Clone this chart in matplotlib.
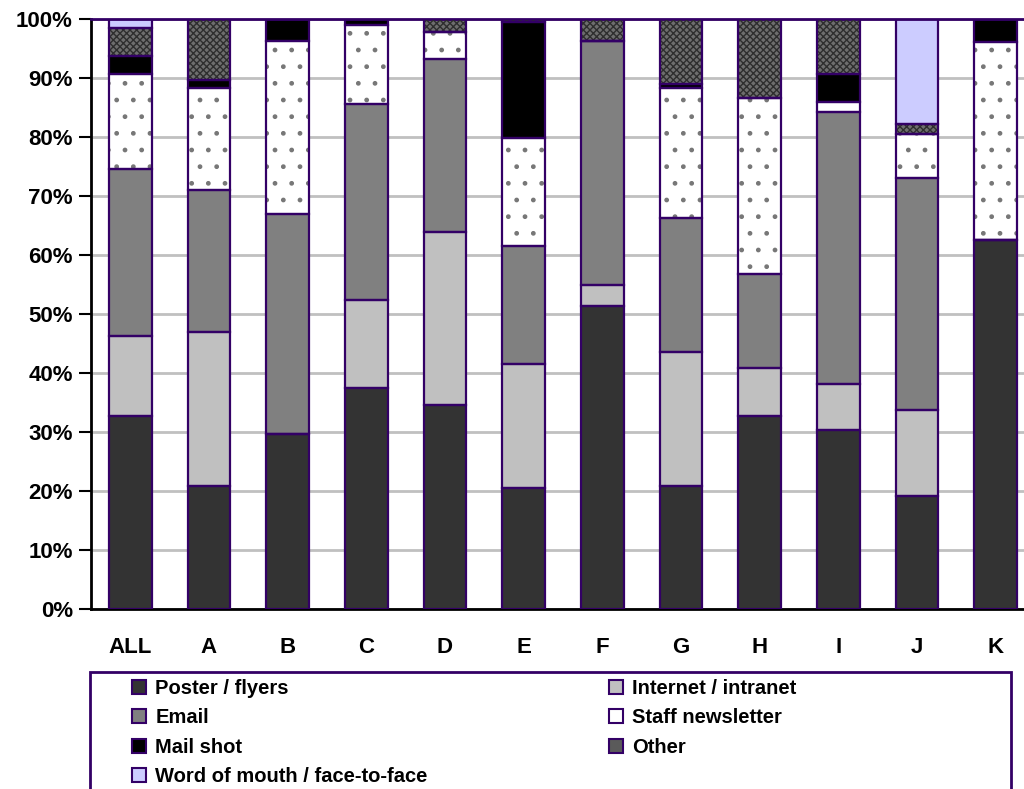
import numpy as np
import matplotlib.pyplot as plt
from matplotlib.patches import Patch, Rectangle

plt.rcParams['font.family'] = ['Liberation Sans', 'DejaVu Sans']
plt.rcParams['font.weight'] = 'bold'
plt.rcParams['hatch.linewidth'] = 1.0

groups = ['ALL', 'A', 'B', 'C', 'D', 'E', 'F', 'G', 'H', 'I', 'J', 'K']

# share of each channel (%) per group, bottom to top
poster = [32.7, 20.8, 29.7, 37.4, 34.5, 20.5, 51.3, 20.9, 32.7, 30.3, 19.1, 62.6]
internet = [13.5, 26.1, 0.0, 15.0, 29.4, 21.0, 3.7, 22.6, 8.1, 7.8, 14.6, 0.0]
email = [28.3, 24.2, 37.2, 33.2, 29.4, 20.0, 41.3, 22.8, 15.9, 46.1, 39.3, 0.0]
newsletter = [16.2, 17.2, 29.4, 13.3, 4.5, 18.3, 0.0, 22.0, 29.9, 1.7, 7.5, 33.5]
mailshot = [3.1, 1.4, 3.7, 1.1, 0.0, 19.7, 0.0, 0.6, 0.0, 4.8, 0.0, 3.9]
other = [4.7, 10.3, 0.0, 0.0, 2.2, 0.5, 3.7, 11.1, 13.4, 9.3, 1.7, 0.0]
word = [1.5, 0.0, 0.0, 0.0, 0.0, 0.0, 0.0, 0.0, 0.0, 0.0, 17.8, 0.0]

# name, values, face colour, hatch, hatch colour
series = [
    ('Poster / flyers', poster, '#333333', None, None),
    ('Internet / intranet', internet, '#c0c0c0', None, None),
    ('Email', email, '#808080', None, None),
    ('Staff newsletter', newsletter, '#ffffff', '.', '#777777'),
    ('Mail shot', mailshot, '#000000', None, None),
    ('Other', other, '#6e6e6e', 'xxxxx', '#2e2e2e'),
    ('Word of mouth / face-to-face', word, '#ccccff', None, None),
]

edge = '#330066'

fig = plt.figure(figsize=(10.24, 7.89), dpi=100)
ax = fig.add_axes([91 / 1024, 1 - 609 / 789, (1035 - 91) / 1024, (609 - 19) / 789])

x = np.arange(len(groups))
width = 0.54
bottom = np.zeros(len(groups))
for name, vals, fc, hatch, hc in series:
    vals = np.array(vals)
    ax.bar(x, vals, width, bottom=bottom, color=fc, linewidth=0, zorder=2)
    if hatch:
        ax.bar(x, vals, width, bottom=bottom, facecolor='none', edgecolor=hc,
               hatch=hatch, linewidth=0, zorder=3)
    ax.bar(x, vals, width, bottom=bottom, fill=False, edgecolor=edge,
           linewidth=1.6, zorder=4)
    bottom += vals

ax.set_xlim(-0.5, len(groups) - 0.5)
ax.set_ylim(0, 100)
ax.set_yticks(np.arange(0, 101, 10))
ax.set_yticklabels([f'{v}%' for v in range(0, 101, 10)], fontsize=16, fontweight='bold')
ax.set_xticks(x)
ax.set_xticklabels(groups, fontsize=16, fontweight='bold')
ax.tick_params(axis='y', length=9, width=1.5, pad=4)
ax.tick_params(axis='x', length=0, pad=20)
ax.grid(axis='y', color='#c0c0c0', linewidth=2, zorder=0)
ax.set_axisbelow(True)

ax.spines['left'].set_color('black')
ax.spines['left'].set_linewidth(2)
ax.spines['bottom'].set_color('black')
ax.spines['bottom'].set_linewidth(2)
ax.spines['top'].set_color(edge)
ax.spines['top'].set_linewidth(2)
ax.spines['right'].set_visible(False)

# legend: two frameless columns inside one outlined box
handles = {}
for name, vals, fc, hatch, hc in series:
    handles[name] = Patch(facecolor=fc if name != 'Other' else '#5a5a5a',
                          edgecolor=edge, linewidth=1.5)
col1 = ['Poster / flyers', 'Email', 'Mail shot', 'Word of mouth / face-to-face']
col2 = ['Internet / intranet', 'Staff newsletter', 'Other']
leg_kw = dict(frameon=False, handlelength=0.7, handleheight=0.7,
              handletextpad=0.45, labelspacing=0.52, borderpad=0, borderaxespad=0,
              loc='upper left', prop={'weight': 'bold', 'size': 14.5})
leg1 = fig.legend([handles[n] for n in col1], col1,
                  bbox_to_anchor=(132 / 1024, 1 - 679 / 789), **leg_kw)
leg2 = fig.legend([handles[n] for n in col2], col2,
                  bbox_to_anchor=(609 / 1024, 1 - 679 / 789), **leg_kw)
fig.add_artist(Rectangle((90 / 1024, -0.05), (1011 - 90) / 1024, 0.05 + 1 - 672 / 789,
                         transform=fig.transFigure, fill=False, edgecolor=edge,
                         linewidth=2))

fig.savefig('out.png', dpi=100)
